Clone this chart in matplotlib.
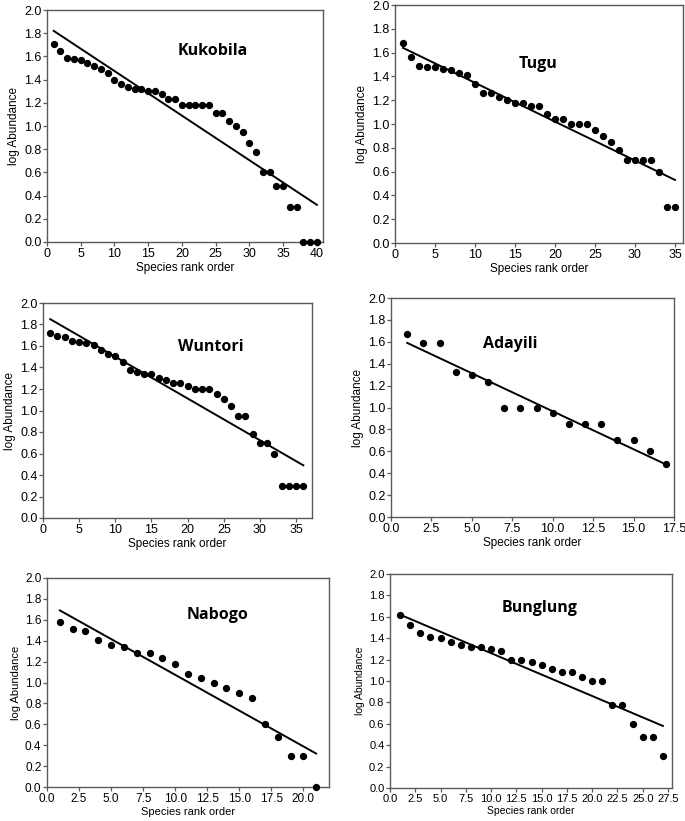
import numpy as np
import matplotlib.pyplot as plt

# Rank-abundance data (log10 abundance per species rank)
sites = ["Kukobila", "Tugu", "Wuntori", "Adayili", "Nabogo", "Bunglung"]

kukobila = [1.71, 1.65, 1.59, 1.58, 1.57, 1.54, 1.52, 1.49, 1.46, 1.40,
            1.36, 1.34, 1.32, 1.32, 1.30, 1.30, 1.28, 1.23, 1.23, 1.18,
            1.18, 1.18, 1.18, 1.18, 1.11, 1.11, 1.04, 1.00, 0.95, 0.85,
            0.78, 0.60, 0.60, 0.48, 0.48, 0.30, 0.30, 0.0, 0.0, 0.0]
tugu = [1.68, 1.56, 1.49, 1.48, 1.48, 1.46, 1.45, 1.43, 1.41, 1.34,
        1.26, 1.26, 1.23, 1.20, 1.18, 1.18, 1.15, 1.15, 1.08, 1.04,
        1.04, 1.00, 1.00, 1.00, 0.95, 0.90, 0.85, 0.78, 0.70, 0.70,
        0.70, 0.70, 0.60, 0.30, 0.30]
wuntori = [1.72, 1.69, 1.68, 1.65, 1.64, 1.63, 1.61, 1.56, 1.53, 1.51,
           1.45, 1.38, 1.36, 1.34, 1.34, 1.30, 1.28, 1.26, 1.26, 1.23,
           1.20, 1.20, 1.20, 1.15, 1.11, 1.04, 0.95, 0.95, 0.78, 0.70,
           0.70, 0.60, 0.30, 0.30, 0.30, 0.30]
adayili = [1.67, 1.59, 1.59, 1.32, 1.30, 1.23, 1.00, 1.00, 1.00, 0.95,
           0.85, 0.85, 0.85, 0.70, 0.70, 0.60, 0.48]
nabogo = [1.58, 1.51, 1.49, 1.41, 1.36, 1.34, 1.28, 1.28, 1.23, 1.18,
          1.08, 1.04, 1.00, 0.95, 0.90, 0.85, 0.60, 0.48, 0.30, 0.30, 0.0]
bunglung = [1.62, 1.52, 1.45, 1.41, 1.40, 1.36, 1.34, 1.32, 1.32, 1.30,
            1.28, 1.20, 1.20, 1.18, 1.15, 1.11, 1.08, 1.08, 1.04, 1.00,
            1.00, 0.78, 0.78, 0.60, 0.48, 0.48, 0.30]
values = [kukobila, tugu, wuntori, adayili, nabogo, bunglung]

# fitted line ends (value at rank 1, value at last rank)
line_start = [1.82, 1.64, 1.85, 1.59, 1.69, 1.62]
line_end = [0.32, 0.53, 0.49, 0.48, 0.32, 0.58]

xmax = [40.9, 36.0, 37.2, 17.5, 22.0, 27.9]
xtick_step = [5, 5, 5, 2.5, 2.5, 2.5]
label_pos = [(24.6, 1.65), (17.9, 1.50), (23.2, 1.59), (7.4, 1.58), (13.3, 1.65), (14.8, 1.68)]

# axes boxes in pixels: left, right, top, bottom
W, H = 685, 821
boxes = [(47, 323, 10, 242), (395, 683, 5, 243),
         (43, 312, 303, 518), (391, 674, 298, 517),
         (47, 329, 578, 787), (390, 672, 574, 788)]
fsize = [9, 9, 9, 9, 8.5, 8]
spine_col = "#5a5a5a"

fig = plt.figure(figsize=(W / 100, H / 100), dpi=100)
for i, site in enumerate(sites):
    l, r, t, b = boxes[i]
    ax = fig.add_axes([l / W, (H - b) / H, (r - l) / W, (b - t) / H])
    y = np.array(values[i])
    x = np.arange(1, len(y) + 1)
    ax.scatter(x, y, s=18, color="black", zorder=3, clip_on=False)
    ax.plot([1, len(y)], [line_start[i], line_end[i]], color="black", lw=1.4)
    ax.set_xlim(0, xmax[i])
    ax.set_ylim(0, 2.0)
    ax.set_yticks(np.arange(0, 2.01, 0.2))
    ax.set_yticklabels([f"{v:.1f}" for v in np.arange(0, 2.01, 0.2)], fontsize=fsize[i])
    xt = np.arange(0, xmax[i] + 0.01, xtick_step[i])
    ax.set_xticks(xt)
    if xtick_step[i] == 5:
        ax.set_xticklabels([f"{v:.0f}" for v in xt], fontsize=fsize[i])
    else:
        ax.set_xticklabels([f"{v:.1f}" for v in xt], fontsize=fsize[i])
    for lab in ax.get_xticklabels() + ax.get_yticklabels():
        lab.set_family("Liberation Sans")
    ax.tick_params(direction="out", length=3, width=0.9, pad=1, color=spine_col)
    for side in ["top", "right", "left", "bottom"]:
        ax.spines[side].set_color(spine_col)
        ax.spines[side].set_linewidth(1.0)
    ax.set_xlabel("Species rank order", fontsize=fsize[i] - 0.5, family="Liberation Sans", labelpad=2)
    ax.set_ylabel("log Abundance", fontsize=fsize[i] - 0.5, family="Liberation Sans", labelpad=3)
    ax.text(label_pos[i][0], label_pos[i][1], site, fontsize=11.5, fontweight="bold",
            family="Open Sans", ha="center", va="center")

plt.savefig("out.png", dpi=100)
